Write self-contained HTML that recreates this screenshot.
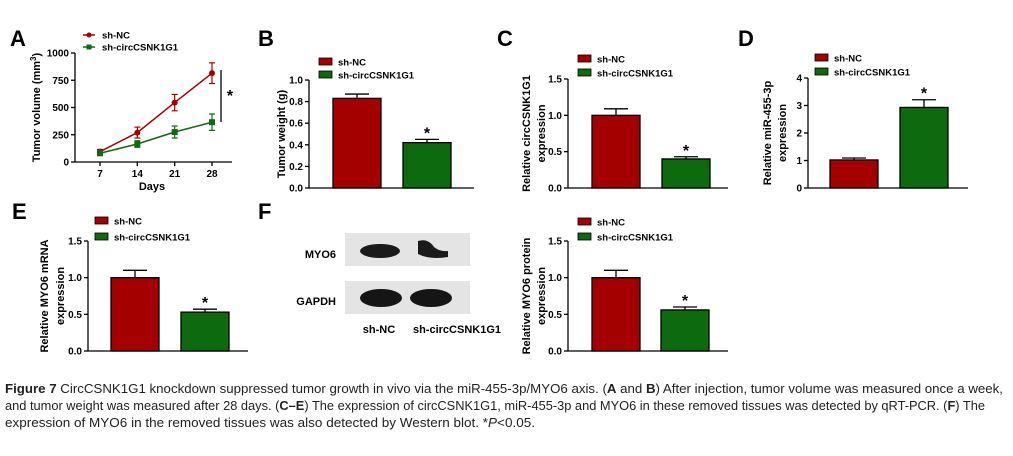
<!DOCTYPE html>
<html><head><meta charset="utf-8"><style>
html,body{margin:0;padding:0;background:#fff;}
svg{display:block;font-family:"Liberation Sans",Arial,sans-serif;}
</style></head><body>
<svg id="fig" width="1013" height="456" viewBox="0 0 1013 456">
<g id="g"></g>
<g>
  <rect x="345" y="233" width="125" height="33" fill="#e4e4e4"/>
  <ellipse cx="380" cy="251" rx="20" ry="7" fill="#1a1a1a"/>
  <path d="M418 241 Q428 238 434 247 Q440 252 448 251 L448 257 Q430 260 418 254 Z" fill="#1a1a1a"/>
  <rect x="345" y="281" width="125" height="33" fill="#e4e4e4"/>
  <ellipse cx="381" cy="298" rx="21" ry="9" fill="#151515"/>
  <ellipse cx="431" cy="298" rx="21" ry="9" fill="#151515"/>
  <text x="336" y="258" font-size="11" font-weight="bold" text-anchor="end">MYO6</text>
  <text x="336" y="305" font-size="11" font-weight="bold" text-anchor="end">GAPDH</text>
  <text x="379" y="333" font-size="11" font-weight="bold" text-anchor="middle">sh-NC</text>
  <text x="457" y="333" font-size="11" font-weight="bold" text-anchor="middle">sh-circCSNK1G1</text>
</g>
<g font-size="12.5" fill="#222">
  <text x="5" y="393" textLength="998" lengthAdjust="spacingAndGlyphs"><tspan font-weight="bold">Figure 7</tspan> CircCSNK1G1 knockdown suppressed tumor growth in vivo via the miR-455-3p/MYO6 axis. (<tspan font-weight="bold">A</tspan> and <tspan font-weight="bold">B</tspan>) After injection, tumor volume was measured once a week,</text>
  <text x="5" y="410" textLength="980" lengthAdjust="spacingAndGlyphs">and tumor weight was measured after 28 days. (<tspan font-weight="bold">C–E</tspan>) The expression of circCSNK1G1, miR-455-3p and MYO6 in these removed tissues was detected by qRT-PCR. (<tspan font-weight="bold">F</tspan>) The</text>
  <text x="5" y="427" textLength="530" lengthAdjust="spacingAndGlyphs">expression of MYO6 in the removed tissues was also detected by Western blot. *<tspan font-style="italic">P</tspan>&lt;0.05.</text>
</g>
</svg>
<script>
// Panel A data
const daysA = [7, 14, 21, 28];
const ncVolA = [95, 270, 545, 815];
const ncErrA = [20, 50, 75, 95];
const kdVolA = [80, 165, 275, 365];
const kdErrA = [15, 30, 55, 75];
const ticksA = [0, 250, 500, 750, 1000];
// Bar panels data
const groups = ["sh-NC", "sh-circCSNK1G1"];
const weightB = [0.83, 0.42];
const weightErrB = [0.04, 0.03];
const ticksB = [0.0, 0.2, 0.4, 0.6, 0.8, 1.0];
const circC = [1.0, 0.40];
const circErrC = [0.09, 0.03];
const ticksC = [0.0, 0.5, 1.0, 1.5];
const mirD = [1.02, 2.93];
const mirErrD = [0.07, 0.28];
const ticksD = [0, 1, 2, 3, 4];
const mrnaE = [1.0, 0.53];
const mrnaErrE = [0.1, 0.04];
const ticksE = [0.0, 0.5, 1.0, 1.5];
const protF = [1.0, 0.56];
const protErrF = [0.1, 0.04];
const ticksF = [0.0, 0.5, 1.0, 1.5];

const NS = "http://www.w3.org/2000/svg";
const root = document.getElementById("g");
const RED = "#a50000", GREEN = "#0e6a0e";
function mk(tag, attrs, parent) {
  const e = document.createElementNS(NS, tag);
  for (const k in attrs) e.setAttribute(k, attrs[k]);
  (parent || root).appendChild(e);
  return e;
}
function txt(x, y, s, size, extra, parent) {
  const t = mk("text", Object.assign({x: x, y: y, "font-size": size, "font-weight": "bold"}, extra || {}), parent);
  t.textContent = s;
  return t;
}
function letter(x, y, s) {
  const t = txt(x, y, s, 22, {"font-family": "Liberation Sans, sans-serif"});
  
  
}
function legend(x, y1, y2, box, panel) {
  const g = mk("g", {});
  
  
  [[y1, RED, groups[0]], [y2, GREEN, groups[1]]].forEach((r, i) => {
    let m;
    if (box) m = mk("rect", {x: x, y: r[0] - 4, width: 13, height: 7, fill: r[1], stroke: "#000", "stroke-width": 0.8}, g);
    else { mk("line", {x1: x, x2: x + 12, y1: r[0], y2: r[0], stroke: r[1], "stroke-width": 1.5}, g);
      m = i == 0 ? mk("circle", {cx: x + 6, cy: r[0], r: 2.5, fill: r[1]}, g) : mk("rect", {x: x + 3.5, y: r[0] - 2.5, width: 5, height: 5, fill: r[1]}, g); }
    
    
    const t = txt(x + 19, r[0] + 3.5, r[2], 9.5, {}, g);
    
    
  });
}
function yAxis(ax, y0, y1, ticks, max, label, labX, panel, fmt, gap) {
  const g = mk("g", {});
  
  
  const sy = v => y0 - (v / max) * (y0 - y1);
  mk("line", {x1: ax, x2: ax, y1: y0, y2: y1, stroke: "#000", "stroke-width": 1.3}, g);
  ticks.forEach(v => {
    mk("line", {x1: ax - 4, x2: ax, y1: sy(v), y2: sy(v), stroke: "#000", "stroke-width": 1.3}, g);
    const t = txt(ax - 6, sy(v) + 3.5, fmt(v), 10, {"text-anchor": "end"}, g);
    
    
  });
  const cy = (y0 + y1) / 2;
  label.forEach((l, i) => {
    const xx = labX + i * (gap || 15);
    const t = txt(xx, cy, "", 11, {"text-anchor": "middle", transform: "rotate(-90 " + xx + " " + cy + ")"}, g);
    t.innerHTML = l;
    
    
  });
  return sy;
}
function barPanel(p) {
  const sy = yAxis(p.ax, p.y0, p.y1, p.ticks, p.max, p.label, p.labX, p.name, p.fmt, p.gap);
  mk("line", {x1: p.ax, x2: p.xEnd, y1: p.y0, y2: p.y0, stroke: "#000", "stroke-width": 1.3});
  p.vals.forEach((v, i) => {
    const bx = p.bx[i], w = 48, cx = bx + w / 2;
    const top = sy(v), et = sy(v + p.errs[i]);
    mk("line", {x1: cx, x2: cx, y1: top, y2: et, stroke: "#000", "stroke-width": 1.3});
    mk("line", {x1: cx - 12, x2: cx + 12, y1: et, y2: et, stroke: "#000", "stroke-width": 1.3});
    const b = mk("rect", {x: bx, y: top, width: w, height: p.y0 - top, fill: i ? GREEN : RED, stroke: "#000", "stroke-width": 1.3});
    
    
    if (i == 1) {
      const s = txt(cx, et - 1, "*", 16, {"text-anchor": "middle"});
      
      
    }
  });
}
const f1 = v => v.toFixed(1), f0 = v => String(v);

// Panel A line chart
letter(10, 46, "A");
legend(83, 35, 47, false, "a");
const syA = yAxis(75, 162, 53, ticksA, 1000, ["Tumor volume (mm<tspan dy='-4' font-size='8'>3</tspan><tspan dy='4'>)</tspan>"], 40, "a", f0);
const sxA = d => 100 + (d - 7) / 21 * 112;
mk("line", {x1: 75, x2: 232, y1: 162, y2: 162, stroke: "#000", "stroke-width": 1.3});
daysA.forEach(d => {
  mk("line", {x1: sxA(d), x2: sxA(d), y1: 162, y2: 166, stroke: "#000", "stroke-width": 1.3});
  const t = txt(sxA(d), 177, String(d), 10, {"text-anchor": "middle"});
  
  
});
const dl = txt(152, 190, "Days", 11, {"text-anchor": "middle"});


[[ncVolA, ncErrA, RED, "shnc"], [kdVolA, kdErrA, GREEN, "shcirc"]].forEach(s => {
  const pts = daysA.map((d, i) => sxA(d) + "," + syA(s[0][i])).join(" ");
  const pl = mk("polyline", {points: pts, fill: "none", stroke: s[2], "stroke-width": 1.5});
  
  
  daysA.forEach((d, i) => {
    const x = sxA(d), y = syA(s[0][i]), e1 = syA(s[0][i] + s[1][i]), e2 = syA(s[0][i] - s[1][i]);
    mk("line", {x1: x, x2: x, y1: e1, y2: e2, stroke: s[2], "stroke-width": 1.2});
    mk("line", {x1: x - 3, x2: x + 3, y1: e1, y2: e1, stroke: s[2], "stroke-width": 1.2});
    mk("line", {x1: x - 3, x2: x + 3, y1: e2, y2: e2, stroke: s[2], "stroke-width": 1.2});
    const m = s[3] == "shnc" ? mk("circle", {cx: x, cy: y, r: 3, fill: s[2]}) : mk("rect", {x: x - 3, y: y - 3, width: 6, height: 6, fill: s[2]});
    
    
  });
});
mk("line", {x1: 221, x2: 221, y1: 70, y2: 122, stroke: "#000", "stroke-width": 1.3});
const sa = txt(230, 101, "*", 16, {"text-anchor": "middle"});



letter(258, 46, "B");
legend(319, 62, 75, true, "b");
barPanel({name: "b", ax: 309, y0: 188, y1: 80, max: 1.0, ticks: ticksB, label: ["Tumor weight (g)"], labX: 285, fmt: f1, xEnd: 474, bx: [333, 403], vals: weightB, errs: weightErrB});

letter(497, 46, "C");
legend(578, 59, 73, true, "c");
barPanel({name: "c", ax: 568, y0: 188, y1: 79, max: 1.5, ticks: ticksC, label: ["Relative circCSNK1G1", "expression"], labX: 530, fmt: f1, xEnd: 728, bx: [592, 662], vals: circC, errs: circErrC});

letter(738, 46, "D");
legend(815, 58, 72, true, "d");
barPanel({name: "d", ax: 808, y0: 188, y1: 78, max: 4, ticks: ticksD, label: ["Relative miR-455-3p", "expression"], labX: 771, fmt: f0, xEnd: 968, bx: [830, 900], vals: mirD, errs: mirErrD});

letter(12, 219, "E");
legend(95, 221, 237, true, "e");
barPanel({name: "e", ax: 88, y0: 351, y1: 241, max: 1.5, ticks: ticksE, label: ["Relative MYO6 mRNA", "expression"], labX: 48, gap: 16, fmt: f1, xEnd: 248, bx: [111, 181], vals: mrnaE, errs: mrnaErrE});

letter(258, 219, "F");
legend(578, 222, 237, true, "f");
barPanel({name: "f", ax: 568, y0: 351, y1: 241, max: 1.5, ticks: ticksF, label: ["Relative MYO6 protein", "expression"], labX: 530, fmt: f1, xEnd: 728, bx: [592, 661], vals: protF, errs: protErrF});
</script>
</body></html>
